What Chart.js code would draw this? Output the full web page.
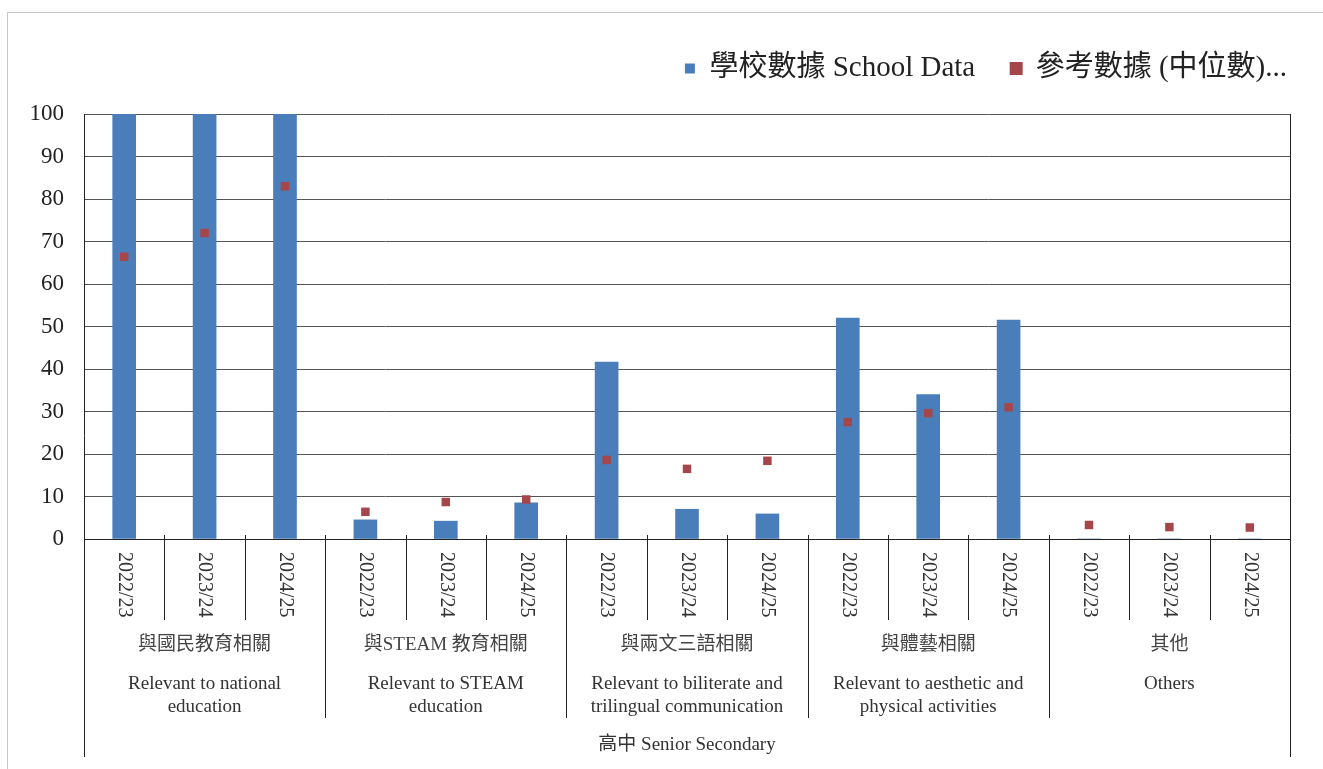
<!DOCTYPE html>
<html>
<head>
<meta charset="utf-8">
<script src="https://cdn.jsdelivr.net/npm/chart.js@4.4.1/dist/chart.umd.min.js"></script>
<style>
  html, body { margin: 0; background: #fff; }
  #wrap { position: relative; width: 1323px; height: 769px; overflow: hidden; }
  #frame { position: absolute; left: 7px; top: 12px; width: 1330px; height: 760px; border: 1px solid #c9c9c9; box-sizing: border-box; }
  #chart { position: absolute; left: 0; top: 0; }
</style>
</head>
<body>
<div id="wrap">
  <div id="frame"></div>
  <canvas id="chart" width="1323" height="769"></canvas>
</div>
<script>
/* ================== DATA ================== */
const YEARS = ["2022/23", "2023/24", "2024/25"];
const GROUPS_ZH = ["與國民教育相關", "與STEAM 教育相關", "與兩文三語相關", "與體藝相關", "其他"];
const GROUPS_EN = [
  ["Relevant to national", "education"],
  ["Relevant to STEAM", "education"],
  ["Relevant to biliterate and", "trilingual communication"],
  ["Relevant to aesthetic and", "physical activities"],
  ["Others"],
];
const OUTER_LABEL = "高中 Senior Secondary";
const SCHOOL_DATA = [100, 100, 100, 4.5, 4.2, 8.5, 41.6, 7, 5.9, 52, 34, 51.5, 0, 0, 0];
const MEDIAN_DATA = [66.4, 72, 83, 6.4, 8.7, 9.3, 18.6, 16.5, 18.4, 27.5, 29.6, 31, 3.3, 2.8, 2.7];
const Y_TICKS = [0, 10, 20, 30, 40, 50, 60, 70, 80, 90, 100];

const LEGEND_SCHOOL = "學校數據 School Data";
const LEGEND_MEDIAN = "參考數據 (中位數)...";

/* ================== STYLE ================== */
const SERIF = "'Liberation Serif', 'Noto Sans CJK TC', serif";
const BAR_COLOR = "#4a7ebb";
const MARK_COLOR = "#a5474a";
const labels = GROUPS_ZH.flatMap((g) => YEARS.map((y) => `${g} ${y}`));

/* ================== PLUGINS ================== */
// extra room under the legend
const legendGap = {
  id: "legendGap",
  beforeInit(chart) {
    const fit = chart.legend.fit;
    chart.legend.fit = function () {
      fit.call(this);
      this.height += 21;
    };
  },
};

// multi level category axis drawn under the plot
const groupAxis = {
  id: "groupAxis",
  afterDraw(chart) {
    const { ctx, chartArea: a, scales } = chart;
    const xs = scales.x;
    const n = labels.length;
    const step = a.width / n;
    const bottom = a.bottom;

    ctx.save();
    ctx.strokeStyle = "#222";
    ctx.lineWidth = 1;

    // frame sides + baseline
    ctx.beginPath();
    ctx.moveTo(Math.round(a.left) + 0.5, a.top);
    ctx.lineTo(Math.round(a.left) + 0.5, 757);
    ctx.moveTo(Math.round(a.right) + 0.5, a.top);
    ctx.lineTo(Math.round(a.right) + 0.5, 757);
    ctx.moveTo(a.left, Math.round(bottom) + 0.5);
    ctx.lineTo(a.right, Math.round(bottom) + 0.5);
    ctx.stroke();

    // separators between categories
    ctx.beginPath();
    for (let i = 1; i < n; i++) {
      const x = Math.round(a.left + step * i) + 0.5;
      const end = i % YEARS.length === 0 ? 718 : 620;
      ctx.moveTo(x, bottom - 4);
      ctx.lineTo(x, end);
    }
    ctx.stroke();

    // year labels, rotated clockwise
    ctx.fillStyle = "#333";
    ctx.font = `20px ${SERIF}`;
    ctx.textAlign = "left";
    ctx.textBaseline = "middle";
    for (let i = 0; i < n; i++) {
      const x = xs.getPixelForValue(i);
      ctx.save();
      ctx.translate(x, bottom + 13);
      ctx.rotate(Math.PI / 2);
      ctx.fillText(YEARS[i % YEARS.length], 0, 0);
      ctx.restore();
    }

    // group labels
    ctx.textAlign = "center";
    GROUPS_ZH.forEach((g, gi) => {
      const cx = a.left + step * (gi * YEARS.length + YEARS.length / 2);
      ctx.fillStyle = "#444";
      ctx.font = `19px ${SERIF}`;
      ctx.fillText(g, cx, 645);
      ctx.fillStyle = "#333";
      GROUPS_EN[gi].forEach((line, li) => ctx.fillText(line, cx, 684 + li * 23));
    });

    ctx.fillStyle = "#333";
    ctx.fillText(OUTER_LABEL, (a.left + a.right) / 2, 745);
    ctx.restore();
  },
};

/* ================== CHART ================== */
new Chart(document.getElementById("chart"), {
  type: "bar",
  data: {
    labels,
    datasets: [
      {
        type: "bar",
        label: LEGEND_SCHOOL,
        data: SCHOOL_DATA,
        backgroundColor: BAR_COLOR,
        barThickness: 23,
        order: 2,
      },
      {
        type: "line",
        label: LEGEND_MEDIAN,
        data: MEDIAN_DATA,
        showLine: false,
        pointStyle: "rect",
        pointRadius: 6,
        pointBackgroundColor: MARK_COLOR,
        pointBorderWidth: 0,
        backgroundColor: MARK_COLOR,
        borderColor: MARK_COLOR,
        order: 1,
      },
    ],
  },
  options: {
    responsive: false,
    animation: false,
    layout: { padding: { top: 18, right: 0, left: 0, bottom: 0 } },
    plugins: {
      tooltip: { enabled: false },
      legend: {
        position: "top",
        align: "end",
        labels: {
          sort: (a, b) => a.datasetIndex - b.datasetIndex,
          boxWidth: 10,
          boxHeight: 10,
          padding: 36,
          color: "#222",
          font: { family: SERIF, size: 29 },
        },
      },
    },
    scales: {
      x: {
        grid: { display: false },
        border: { display: false },
        ticks: { display: false },
        afterFit: (s) => { s.height = 230; },
      },
      y: {
        min: 0,
        max: 100,
        afterBuildTicks: (s) => { s.ticks = Y_TICKS.map((v) => ({ value: v })); },
        grid: { color: "#555", drawTicks: false },
        border: { display: false },
        ticks: { color: "#222", padding: 20, font: { family: SERIF, size: 23 } },
        afterFit: (s) => { s.width = 84; },
      },
      y2: {
        position: "right",
        display: true,
        grid: { display: false },
        border: { display: false },
        ticks: { display: false },
        afterFit: (s) => { s.width = 33; },
      },
    },
  },
  plugins: [legendGap, groupAxis],
});
</script>
</body>
</html>
